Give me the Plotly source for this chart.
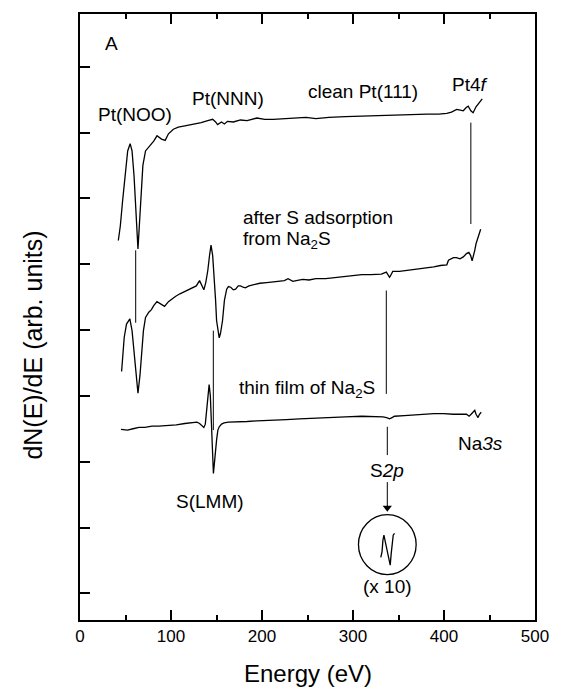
import plotly.graph_objects as go

# ---------------- data ----------------
# clean Pt(111)
clean_E = [42.1, 44.3, 46.8, 49.7, 52.4, 55.1, 57.2, 59.4, 61.2, 62.6, 63.7, 65.9, 68.0, 69.1, 72.0,
           77.4, 81.0, 84.6, 89.6, 93.6, 97.2, 102.6, 108.0, 115.2, 124.2, 133.2, 140.4, 145.8, 149.0,
           151.2, 155.5, 158.7, 162.0, 168.5, 176.4, 183.6, 194.4, 203.0, 212.4, 226.8, 248.4, 259.2,
           273.5, 291.6, 309.6, 329.4, 345.6, 361.8, 381.5, 394.2, 403.1, 408.2, 413.9, 417.9, 421.2,
           424.4, 426.6, 429.5, 432.0, 435.2, 437.4, 442.0]
clean_I = [5.36, 5.58, 5.96, 6.42, 6.72, 6.83, 6.72, 6.34, 5.96, 5.51, 5.23, 5.81, 6.27, 6.50, 6.72,
           6.80, 6.87, 6.95, 6.90, 6.88, 6.98, 7.05, 7.08, 7.10, 7.12, 7.15, 7.18, 7.20, 7.16,
           7.12, 7.16, 7.13, 7.17, 7.16, 7.19, 7.18, 7.22, 7.20, 7.20, 7.21, 7.23, 7.21,
           7.23, 7.24, 7.25, 7.26, 7.27, 7.27, 7.28, 7.28, 7.29, 7.31, 7.35, 7.34, 7.33,
           7.38, 7.40, 7.33, 7.30, 7.39, 7.43, 7.51]

# after S adsorption from Na2S
ads_E = [45.7, 48.6, 51.1, 54.8, 57.2, 59.4, 61.6, 63.7, 65.9, 67.7, 69.7, 72.0, 75.6, 78.5, 81.0,
         84.6, 88.6, 92.9, 97.2, 100.8, 104.8, 109.8, 114.5, 118.8, 123.1, 127.8, 131.4, 133.9,
         136.1, 138.2, 140.4, 142.5, 144.0, 145.8, 147.6, 149.0, 150.1, 151.7, 153.0, 154.4, 156.6,
         158.7, 161.2, 163.1, 165.6, 168.5, 171.0, 173.9, 176.4, 179.3, 181.7, 185.7, 190.8, 197.6,
         205.2, 212.7, 219.5, 224.6, 228.6, 234.0, 237.6, 244.8, 251.6, 259.2, 270.0, 284.3, 297.0,
         309.6, 319.7, 331.2, 336.6, 338.6, 340.2, 341.8, 343.7, 351.0, 363.6, 372.6, 381.5, 388.8,
         396.0, 403.1, 404.9, 407.1, 410.4, 413.6, 417.6, 421.2, 424.7, 427.3, 429.3, 430.9, 432.5,
         433.8, 435.2, 437.4, 440.3]
ads_I = [3.37, 3.89, 4.09, 4.17, 3.99, 3.69, 3.31, 3.04, 3.31, 3.69, 3.99, 4.19, 4.27, 4.31, 4.37,
         4.43, 4.40, 4.36, 4.43, 4.47, 4.51, 4.55, 4.58, 4.61, 4.64, 4.67, 4.75, 4.67,
         4.61, 4.72, 4.90, 5.15, 5.29, 5.13, 4.80, 4.45, 4.14, 3.96, 3.88, 3.95, 4.14,
         4.45, 4.62, 4.66, 4.65, 4.61, 4.62, 4.67, 4.67, 4.65, 4.64, 4.67, 4.69, 4.71,
         4.72, 4.73, 4.74, 4.75, 4.78, 4.74, 4.75, 4.77, 4.76, 4.78, 4.78, 4.80, 4.82,
         4.84, 4.84, 4.85, 4.88, 4.83, 4.80, 4.84, 4.89, 4.89, 4.91, 4.93, 4.94, 4.96,
         4.98, 4.99, 5.06, 5.08, 5.10, 5.10, 5.08, 5.11, 5.16, 5.18, 5.13, 5.05, 5.13,
         5.21, 5.31, 5.41, 5.53]

# thin film of Na2S
film_E = [45.0, 52.2, 58.3, 64.8, 71.3, 79.2, 86.4, 97.2, 105.8, 115.2, 121.0, 126.0, 128.5, 131.4,
          133.9, 136.1, 137.7, 138.6, 140.4, 141.9, 143.2, 144.3, 145.3, 146.6, 148.0, 149.0, 150.1,
          151.5, 153.0, 155.5, 158.4, 163.1, 169.2, 176.4, 183.6, 194.4, 205.2, 216.0, 226.8, 241.1,
          253.8, 273.5, 291.6, 309.6, 321.8, 332.9, 336.9, 340.2, 342.9, 345.6, 356.4, 374.4, 388.8,
          399.6, 410.4, 424.7, 427.6, 429.8, 432.0, 433.8, 435.2, 437.4, 439.0, 440.9]
film_I = [2.49, 2.48, 2.50, 2.52, 2.52, 2.54, 2.54, 2.55, 2.56, 2.58, 2.59, 2.60, 2.60, 2.58,
          2.54, 2.52, 2.57, 2.70, 3.01, 3.17, 3.01, 2.55, 2.10, 1.82, 2.02, 2.22, 2.33,
          2.48, 2.53, 2.57, 2.59, 2.60, 2.60, 2.60, 2.61, 2.62, 2.63, 2.64, 2.64, 2.65,
          2.66, 2.67, 2.68, 2.69, 2.69, 2.68, 2.67, 2.65, 2.67, 2.69, 2.70, 2.72, 2.73,
          2.73, 2.72, 2.72, 2.69, 2.72, 2.76, 2.78, 2.72, 2.67, 2.72, 2.75]

# S2p region magnified x10 (inside the circle)
zoom_E = [330.5, 331.9, 332.9, 334.0, 335.5, 337.7, 339.8, 340.9, 342.0, 343.1, 344.2, 345.6]
zoom_I = [0.546, 0.631, 0.808, 0.884, 0.782, 0.631, 0.479, 0.429, 0.607, 0.808, 0.884, 0.910]

# vertical marker lines: energy, top, bottom
mark_E = [61.2, 146.5, 429.5, 336.6, 337.7]
mark_top = [5.21, 3.99, 7.15, 4.60, 2.53]
mark_bot = [4.11, 2.48, 5.61, 3.03, 2.10]

# arrow S2p -> circle
arrow_E = 337.7
arrow_from = 1.69
arrow_to = 1.30

# circle around magnified S2p
circle_E = 337.7
circle_I = 0.74
circle_rE = 31.7
circle_rI = 0.455

# labels: text, energy, intensity, anchor
labels = [
    ("A", 34.2, 8.35, "center"),
    ("Pt(NOO)", 60.3, 7.28, "center"),
    ("Pt(NNN)", 162.9, 7.51, "center"),
    ("clean Pt(111)", 311.0, 7.63, "center"),
    ("Pt4<i>f</i>", 428.3, 7.73, "center"),
    ("after S adsorption", 177.1, 5.71, "left"),
    ("from Na<sub>2</sub>S", 177.1, 5.36, "left"),
    ("thin film of Na<sub>2</sub>S", 172.0, 3.11, "left"),
    ("Na<i>3s</i>", 440.1, 2.28, "center"),
    ("S<i>2p</i>", 337.7, 1.87, "center"),
    ("S(LMM)", 143.3, 1.39, "center"),
    ("(x 10)", 337.7, 0.10, "center"),
]

x_ticks = [0, 100, 200, 300, 400, 500]
y_ticks = [0, 1, 2, 3, 4, 5, 6, 7, 8]

FONT = "Liberation Sans, Arial, sans-serif"

fig = go.Figure()
for E, I in [(clean_E, clean_I), (ads_E, ads_I), (film_E, film_I), (zoom_E, zoom_I)]:
    fig.add_trace(go.Scatter(x=E, y=I, mode="lines", line=dict(color="black", width=1.3),
                             showlegend=False, hoverinfo="skip"))

for e, a, b in zip(mark_E, mark_top, mark_bot):
    fig.add_trace(go.Scatter(x=[e, e], y=[a, b], mode="lines", line=dict(color="black", width=1),
                             showlegend=False, hoverinfo="skip"))

# arrow: shaft + head
fig.add_trace(go.Scatter(x=[arrow_E, arrow_E], y=[arrow_from, arrow_to], mode="lines",
                         line=dict(color="black", width=1), showlegend=False, hoverinfo="skip"))
fig.add_trace(go.Scatter(x=[arrow_E], y=[arrow_to], mode="markers",
                         marker=dict(symbol="triangle-down", size=8, color="black"),
                         showlegend=False, hoverinfo="skip"))

fig.add_shape(type="circle", xref="x", yref="y",
              x0=circle_E - circle_rE, x1=circle_E + circle_rE,
              y0=circle_I - circle_rI, y1=circle_I + circle_rI,
              line=dict(color="black", width=1.3))

for t, e, i, anc in labels:
    fig.add_annotation(x=e, y=i, xref="x", yref="y", text=t, showarrow=False,
                       xanchor=anc, yanchor="middle", font=dict(family=FONT, size=19, color="black"))

# axis titles
fig.add_annotation(x=0.5, y=-0.089, xref="paper", yref="paper", text="Energy (eV)", showarrow=False,
                   xanchor="center", yanchor="middle", font=dict(family=FONT, size=24, color="black"))
fig.add_annotation(x=-0.103, y=0.453, xref="paper", yref="paper", text="dN(E)/dE (arb. units)",
                   textangle=-90, showarrow=False, xanchor="center", yanchor="middle",
                   font=dict(family=FONT, size=25, color="black"))

fig.update_layout(
    width=561, height=692,
    margin=dict(l=80, r=17, t=13, b=72),
    paper_bgcolor="white", plot_bgcolor="white",
    font=dict(family=FONT, color="black"),
    xaxis=dict(range=[0, 500], tickvals=x_ticks, ticks="inside", ticklen=10, tickwidth=1.5,
               tickcolor="black", showline=True, linecolor="black", linewidth=2,
               mirror="allticks", showgrid=False, zeroline=False,
               tickfont=dict(family=FONT, size=17, color="black"),
               minor=dict(dtick=50, ticks="inside", ticklen=5, tickwidth=1.5, tickcolor="black",
                          showgrid=False)),
    yaxis=dict(range=[-0.405, 8.8], tickvals=y_ticks, ticks="inside", ticklen=10, tickwidth=1.5,
               tickcolor="black", showticklabels=False, showline=True, linecolor="black",
               linewidth=2, mirror=True, showgrid=False, zeroline=False),
)

fig.write_html("out.html")
